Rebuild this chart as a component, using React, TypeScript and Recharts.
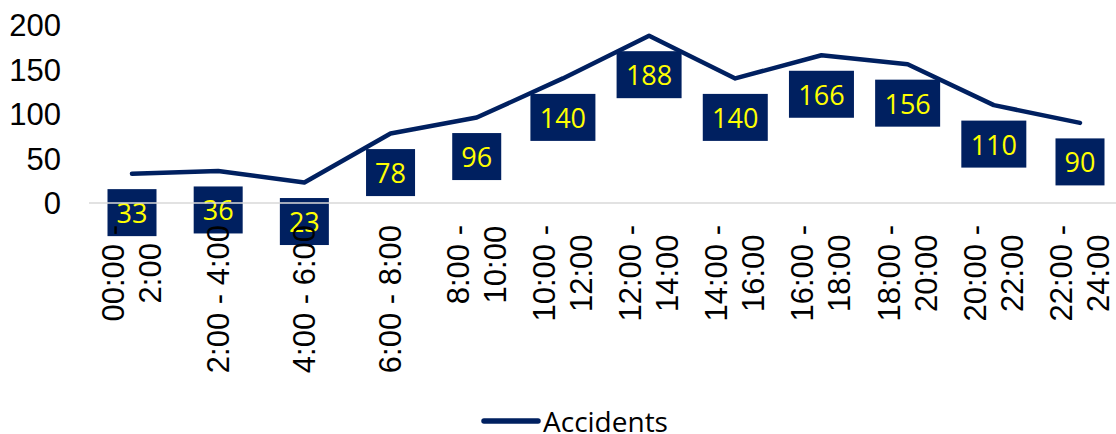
import { LineChart, Line, XAxis, YAxis, Legend, LabelList } from "recharts";

const categories = [
  "00:00 - 2:00",
  "2:00 - 4:00",
  "4:00 - 6:00",
  "6:00 - 8:00",
  "8:00 - 10:00",
  "10:00 - 12:00",
  "12:00 - 14:00",
  "14:00 - 16:00",
  "16:00 - 18:00",
  "18:00 - 20:00",
  "20:00 - 22:00",
  "22:00 - 24:00",
];
// how each tick label wraps in the picture
const tickLines = [
  ["00:00 -", "2:00"],
  ["2:00 - 4:00"],
  ["4:00 - 6:00"],
  ["6:00 - 8:00"],
  ["8:00 -", "10:00"],
  ["10:00 -", "12:00"],
  ["12:00 -", "14:00"],
  ["14:00 -", "16:00"],
  ["16:00 -", "18:00"],
  ["18:00 -", "20:00"],
  ["20:00 -", "22:00"],
  ["22:00 -", "24:00"],
];
const accidents = [33, 36, 23, 78, 96, 140, 188, 140, 166, 156, 110, 90];
const yTicks = [0, 50, 100, 150, 200];

const data = categories.map((c, i) => ({ slot: c, accidents: accidents[i] }));

const NAVY = "#002060";
const AXIS_FONT = "'Liberation Sans', Arial, sans-serif";
const LABEL_FONT = "'Open Sans', 'Noto Sans', sans-serif";
const FS = 31;

// Arial / Liberation Sans advance widths
const charW: Record<string, number> = { ":": 0.278, " ": 0.278, "-": 0.333 };
const textWidth = (s: string) =>
  s.split("").reduce((a, ch) => a + (charW[ch] ?? 0.556), 0) * FS;

function XTick(props: any) {
  const { x, y, payload } = props;
  const lines = tickLines[payload.index] ?? [payload.value];
  const block = Math.max(...lines.map(textWidth));
  const n = lines.length;
  return (
    <g transform={`translate(${x},${y + 22}) rotate(-90)`}>
      {lines.map((l: string, i: number) => (
        <text
          key={i}
          x={-block / 2}
          y={(i - (n - 1) / 2) * 37}
          textAnchor="middle"
          dominantBaseline="central"
          fill="#000"
          fontSize={FS}
          fontFamily={AXIS_FONT}
        >
          {l}
        </text>
      ))}
    </g>
  );
}

function BoxLabel(props: any) {
  const { x, y, value } = props;
  const w = String(value).length > 2 ? 65 : 49;
  const h = 47;
  const cy = y + 39;
  return (
    <g>
      <rect x={x - w / 2} y={cy - h / 2} width={w} height={h} fill={NAVY} />
      <text
        x={x}
        y={cy}
        textAnchor="middle"
        dominantBaseline="central"
        fill="#FFFF00"
        fontSize={27}
        fontFamily={LABEL_FONT}
      >
        {value}
      </text>
    </g>
  );
}

function LegendBox() {
  return (
    <div style={{ height: 26, paddingLeft: 33, display: "flex", justifyContent: "center", alignItems: "center" }}>
      <svg width={60} height={12} style={{ marginRight: 2 }}>
        <line x1={3} y1={6} x2={57} y2={6} stroke={NAVY} strokeWidth={5.5} strokeLinecap="round" />
      </svg>
      <span style={{ fontFamily: LABEL_FONT, fontSize: 28, color: "#000", lineHeight: "26px" }}>
        Accidents
      </span>
    </div>
  );
}

export default function App() {
  return (
    <div style={{ position: "absolute", left: 0, top: 0, background: "#fff" }}>
      <LineChart width={1116} height={434} data={data} margin={{ top: 25, right: 0, bottom: 0, left: 0 }}>
        <XAxis
          dataKey="slot"
          interval={0}
          padding={{ left: 43, right: 36 }}
          axisLine={{ stroke: "#D9D9D9", strokeWidth: 1.5 }}
          tickLine={false}
          tickSize={0}
          tickMargin={0}
          height={205}
          tick={<XTick />}
          zIndex={2100}
        />
        <YAxis
          domain={[0, 200]}
          ticks={yTicks}
          width={89}
          axisLine={false}
          tickLine={false}
          tickMargin={22}
          tick={{ fill: "#000", fontSize: FS, fontFamily: AXIS_FONT }}
        />
        <Legend verticalAlign="bottom" align="center" content={<LegendBox />} wrapperStyle={{ top: 408 }} />
        <Line
          type="linear"
          dataKey="accidents"
          name="Accidents"
          stroke={NAVY}
          strokeWidth={4.5}
          strokeLinecap="round"
          strokeLinejoin="round"
          dot={false}
          activeDot={false}
          isAnimationActive={false}
        >
          <LabelList dataKey="accidents" content={<BoxLabel />} />
        </Line>
      </LineChart>
    </div>
  );
}
